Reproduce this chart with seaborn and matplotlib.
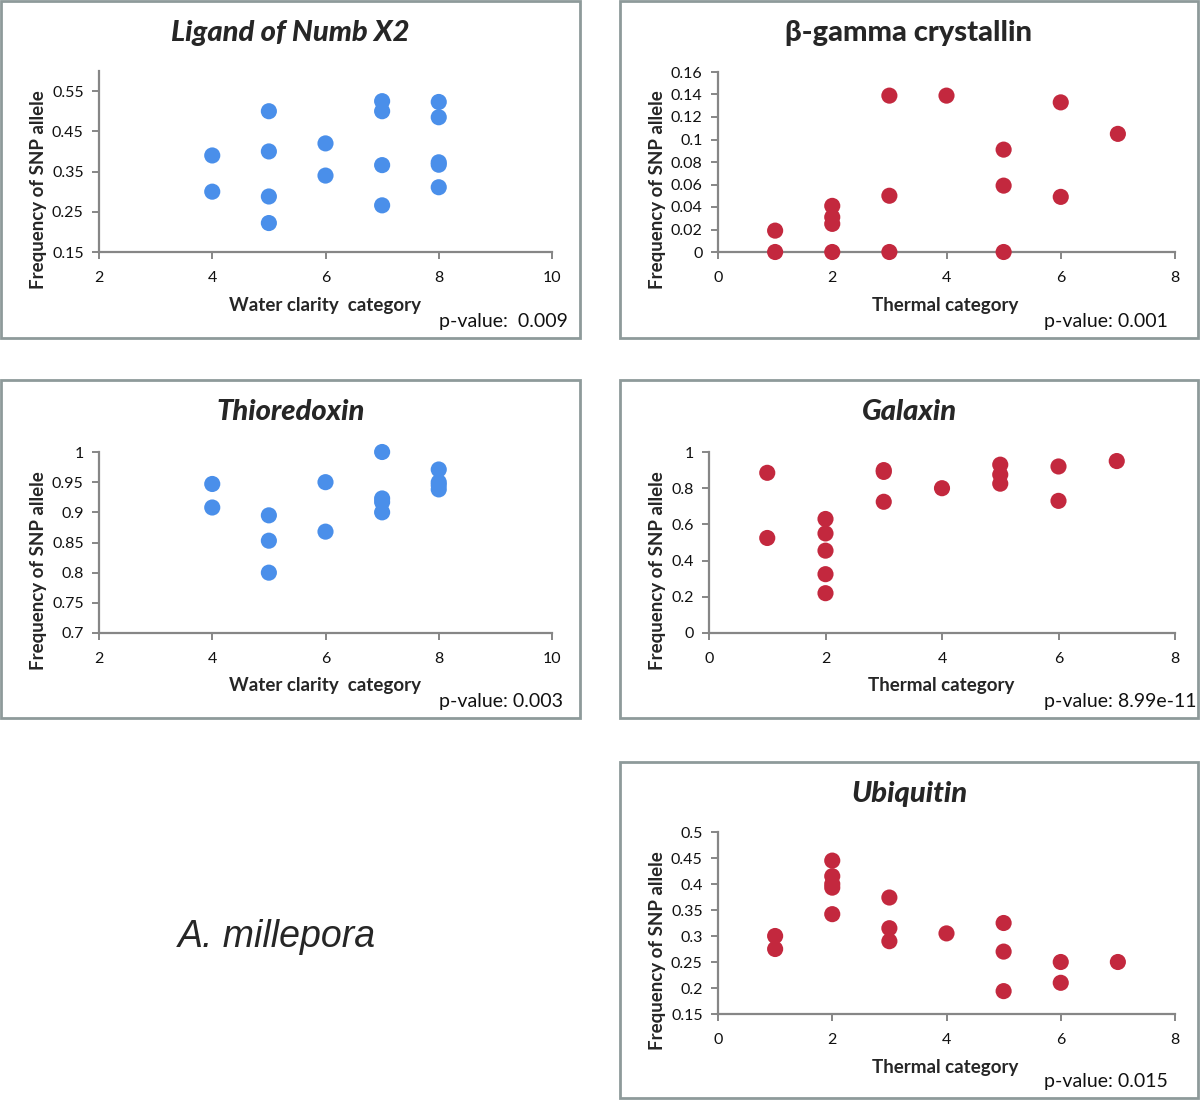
import numpy as np
import pandas as pd
import matplotlib
matplotlib.use("Agg")
import matplotlib.pyplot as plt
import seaborn as sns
from matplotlib.patches import Rectangle
from matplotlib.ticker import FuncFormatter

sns.set_theme(style="white")
plt.rcParams["font.family"] = ["Lato", "DejaVu Sans"]

# --- data ---
numb_x = [4, 4, 5, 5, 5, 5, 6, 6, 7, 7, 7, 7, 8, 8, 8, 8, 8]
numb_y = [0.39, 0.30, 0.50, 0.40, 0.288, 0.222, 0.42, 0.34,
          0.525, 0.50, 0.366, 0.266, 0.523, 0.485, 0.373, 0.367, 0.311]

cryst_x = [1, 1, 2, 2, 2, 2, 3, 3, 3, 4, 5, 5, 5, 6, 6, 7]
cryst_y = [0.019, 0.0, 0.041, 0.031, 0.025, 0.0, 0.139, 0.05, 0.0,
           0.139, 0.091, 0.059, 0.0, 0.133, 0.049, 0.105]

thio_x = [4, 4, 5, 5, 5, 6, 6, 7, 7, 7, 7, 8, 8, 8, 8]
thio_y = [0.947, 0.908, 0.895, 0.853, 0.80, 0.95, 0.868,
          1.0, 0.923, 0.917, 0.90, 0.971, 0.95, 0.945, 0.938]

gal_x = [1, 1, 2, 2, 2, 2, 2, 3, 3, 3, 4, 5, 5, 5, 6, 6, 7]
gal_y = [0.885, 0.525, 0.63, 0.55, 0.455, 0.325, 0.22, 0.90, 0.89, 0.725,
         0.80, 0.93, 0.875, 0.825, 0.92, 0.73, 0.95]

ubi_x = [1, 1, 2, 2, 2, 2, 2, 3, 3, 3, 4, 5, 5, 5, 6, 6, 7]
ubi_y = [0.30, 0.275, 0.445, 0.415, 0.40, 0.393, 0.342, 0.374, 0.315, 0.29,
         0.305, 0.325, 0.27, 0.194, 0.25, 0.21, 0.25]

titles = ["Ligand of Numb X2", "\u03b2-gamma crystallin", "Thioredoxin", "Galaxin", "Ubiquitin"]
xlabels = ["Water clarity  category", "Thermal category", "Water clarity  category",
           "Thermal category", "Thermal category"]
pvalues = ["p-value:  0.009", "p-value: 0.001", "p-value: 0.003",
           "p-value: 8.99e-11", "p-value: 0.015"]

BLUE = "#4A8FEA"
RED = "#C3283E"
AXC = "#868686"
W, H = 1200, 1100

fig = plt.figure(figsize=(12, 11), dpi=100)


def fx(px):
    return px / W


def fy(py):
    return 1 - py / H


def box(x0, y0, x1, y1):
    fig.patches.append(Rectangle((fx(x0), fy(y1)), fx(x1) - fx(x0), fy(y0) - fy(y1),
                                 transform=fig.transFigure, fill=False,
                                 edgecolor="#8E9A9A", linewidth=2))


fmt = FuncFormatter(lambda v, p: ("%g" % round(v, 4)))

# (x, y, box, axes px [left, right, top, bottom], xlim, xticks, ylim, yticks, color,
#  title italic, pvalue right x)
panels = [
    (numb_x, numb_y, (1, 1, 580, 338), (99, 552, 71, 252), (2, 10), np.arange(2, 11, 2),
     (0.15, 0.6), np.arange(0.15, 0.56, 0.1), BLUE, True, 568),
    (cryst_x, cryst_y, (620, 1, 1198, 338), (718, 1175, 72, 252), (0, 8), np.arange(0, 9, 2),
     (0, 0.16), np.arange(0, 0.161, 0.02), RED, False, 1168),
    (thio_x, thio_y, (1, 380, 580, 718), (99, 552, 452, 633), (2, 10), np.arange(2, 11, 2),
     (0.7, 1.0), np.arange(0.7, 1.01, 0.05), BLUE, True, 563),
    (gal_x, gal_y, (620, 380, 1198, 718), (709, 1175, 452, 633), (0, 8), np.arange(0, 9, 2),
     (0, 1.0), np.arange(0, 1.01, 0.2), RED, True, 1196),
    (ubi_x, ubi_y, (620, 762, 1198, 1098), (718, 1175, 832, 1014), (0, 8), np.arange(0, 9, 2),
     (0.15, 0.5), np.arange(0.15, 0.51, 0.05), RED, True, 1168),
]

for i, (xs, ys, bx, ap, xlim, xt, ylim, yt, col, ital, prx) in enumerate(panels):
    box(*bx)
    l, r, t, b = ap
    ax = fig.add_axes([fx(l), fy(b), fx(r) - fx(l), fy(t) - fy(b)])
    df = pd.DataFrame({"x": xs, "y": ys})
    sns.scatterplot(data=df, x="x", y="y", ax=ax, color=col, s=135,
                    edgecolor="none", clip_on=False, zorder=3)
    ax.set_xlim(*xlim)
    ax.set_ylim(*ylim)
    ax.set_xticks(xt)
    ax.set_yticks(yt)
    ax.xaxis.set_major_formatter(fmt)
    ax.yaxis.set_major_formatter(fmt)
    for s in ["top", "right"]:
        ax.spines[s].set_visible(False)
    for s in ["left", "bottom"]:
        ax.spines[s].set_color(AXC)
        ax.spines[s].set_linewidth(1.6)
    ax.tick_params(direction="out", length=5, width=1.4, color=AXC,
                   labelsize=11.5, labelcolor="#111111", pad=6,
                   bottom=True, left=True)
    ax.tick_params(axis="x", pad=9)
    ax.set_xlabel("")
    ax.set_ylabel("")
    ax.patch.set_alpha(0)
    # title, labels
    cx = (bx[0] + bx[2]) / 2
    fig.text(fx(cx), fy(bx[1] + 32), titles[i], ha="center", va="center",
             fontsize=21, fontweight=900, style="italic" if ital else "normal")
    fig.text(fx((l + r) / 2 - 1), fy(b + 53), xlabels[i], ha="center", va="center",
             fontsize=13.5, fontweight="bold")
    fig.text(fx(bx[0] + 38), fy((t + b) / 2 + 28), "Frequency of SNP allele",
             ha="center", va="center", rotation=90, fontsize=13.5, fontweight="bold")
    fig.text(fx(prx), fy(bx[3] - 16), pvalues[i], ha="right", va="center",
             fontsize=14, color="#111111")

fig.text(fx(277), fy(937), "A. millepora", ha="center", va="center",
         fontsize=27, style="italic", family=["Liberation Sans", "DejaVu Sans"])

fig.savefig("out.png", dpi=100, facecolor="white")
